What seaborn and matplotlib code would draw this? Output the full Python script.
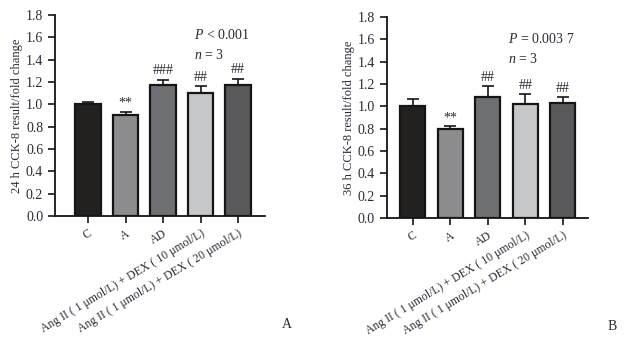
import seaborn as sns
import matplotlib.pyplot as plt
import pandas as pd

# groups on the x axis
groups = ['C', 'A', 'AD',
          'Ang II ( 1 μmol/L) + DEX ( 10 μmol/L)',
          'Ang II ( 1 μmol/L) + DEX ( 20 μmol/L)']
bar_colors = ['#231f20', '#8c8d90', '#6e6f72', '#c6c7c9', '#59595c']

# panel A: 24 h
mean_24h = [1.00, 0.90, 1.17, 1.10, 1.17]
err_24h = [0.02, 0.03, 0.05, 0.06, 0.06]
marks_24h = ['', '**', '###', '##', '##']

# panel B: 36 h
mean_36h = [1.00, 0.80, 1.08, 1.02, 1.03]
err_36h = [0.07, 0.02, 0.10, 0.09, 0.05]
marks_36h = ['', '**', '##', '##', '##']

yticks = [0.0, 0.2, 0.4, 0.6, 0.8, 1.0, 1.2, 1.4, 1.6, 1.8]

txt = '#2a2a38'
sns.set_style('ticks')
plt.rcParams['font.family'] = ['Liberation Serif', 'DejaVu Serif']
plt.rcParams['mathtext.fontset'] = 'custom'
plt.rcParams['mathtext.it'] = 'Liberation Serif:italic'
plt.rcParams['mathtext.rm'] = 'Liberation Serif'

fig = plt.figure(figsize=(6.25, 3.41), dpi=100)
axA = fig.add_axes([0.088, 0.367, 0.336, 0.589])
axB = fig.add_axes([0.619, 0.361, 0.322, 0.589])


def panel(ax, means, errs, marks, ylabel, ptext, px, py, xlim):
    df = pd.DataFrame({'group': groups, 'value': means})
    sns.barplot(data=df, x='group', y='value', hue='group', palette=bar_colors,
                order=groups, hue_order=groups, legend=False, errorbar=None,
                width=0.667, edgecolor='#151515', linewidth=1.6, ax=ax)
    ax.errorbar(range(len(groups)), means, yerr=[[0] * len(errs), errs],
                fmt='none', ecolor='#151515', elinewidth=1.2, capsize=4.5,
                capthick=1.2, zorder=1)
    for i, (m, e, s) in enumerate(zip(means, errs, marks)):
        if s:
            ax.text(i, m + e + 0.02, s, ha='center', va='bottom',
                    fontsize=10, color=txt)
    ax.set_ylim(0, 1.8)
    ax.set_xlim(*xlim)
    ax.set_yticks(yticks)
    ax.set_yticklabels([f'{v:.1f}' for v in yticks], fontsize=10, color=txt)
    ax.set_xticks(range(len(groups)))
    ax.set_xticklabels(groups, rotation=31, ha='right', rotation_mode='anchor',
                       fontsize=8.5, color=txt)
    ax.set_xlabel('')
    ax.set_ylabel(ylabel, fontsize=9, color=txt, labelpad=2)
    ax.tick_params(axis='both', width=1.2, length=5, color='#151515')
    for s in ['left', 'bottom']:
        ax.spines[s].set_linewidth(1.3)
        ax.spines[s].set_color('#151515')
    sns.despine(ax=ax)
    ax.text(px, py, ptext, transform=ax.transAxes, fontsize=10, color=txt)
    ax.text(px, py - 0.1, r'$n$ = 3', transform=ax.transAxes, fontsize=10, color=txt)


panel(axA, mean_24h, err_24h, marks_24h, '24 h CCK-8 result/fold change',
      r'$P$ < 0.001', 0.66, 0.88, (-0.88, 4.72))
panel(axB, mean_36h, err_36h, marks_36h, '36 h CCK-8 result/fold change',
      r'$P$ = 0.003 7', 0.60, 0.87, (-0.69, 4.67))

fig.text(287 / 625, 1 - 325 / 341, 'A', fontsize=10, color=txt, ha='center', va='center')
fig.text(612 / 625, 1 - 326 / 341, 'B', fontsize=10, color=txt, ha='center', va='center')

fig.savefig('out.png', dpi=100)
